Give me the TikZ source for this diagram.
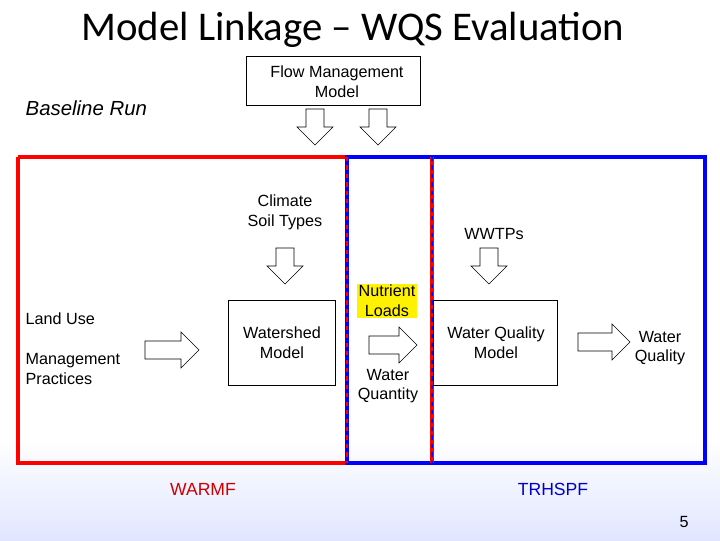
\documentclass[tikz,border=0pt]{standalone}
\usepackage{fontspec}
\setmainfont{Liberation Sans}
\newfontfamily\titlefont{Carlito}
\newcommand\blockarr[4]{% x y length rotation
 \begin{scope}[shift={(#1,#2)},rotate=#4]
 \draw[thin,fill=white] (-#3/2,-9) -- (#3/2-18,-9) -- (#3/2-18,-18) -- (#3/2,0) -- (#3/2-18,18) -- (#3/2-18,9) -- (-#3/2,9) -- cycle;
 \end{scope}}
\begin{document}
\begin{tikzpicture}[x=0.025cm,y=-0.025cm,
 lbl/.style={font=\fontsize{11.5}{14}\selectfont,align=center,inner sep=1pt},
 box/.style={draw,thin,fill=white}]
\useasboundingbox (0,0) rectangle (720,540);
\shade[top color=white,bottom color=cyan!18!blue!12] (0,440) rectangle (720,540);
\node[font=\titlefont\fontsize{29}{32}\selectfont] (title) at (353,30) {Model Linkage – WQS Evaluation};
\node[lbl,font=\itshape\fontsize{14.5}{16}\selectfont,anchor=west] (base) at (24,108) {Baseline Run};
\draw[box] (246,56) rectangle (420,105);
\node[lbl] (flow) at (337,82) {Flow Management\\Model};
% rectangles
\draw[red,line width=2.5pt] (18,157) -- (347,157) (18,157) -- (18,463) -- (347,463);
\draw[blue,line width=2.5pt] (347,157) rectangle (705,463);
\draw[red,line width=2.5pt] (432,157) -- (432,463);
\draw[red,line width=0.8pt,dashed] (347,157) -- (347,463);
\draw[blue,line width=0.8pt,dashed] (432,157) -- (432,463);
% boxes
\draw[box] (228,300) rectangle (335,385);
\node[lbl] (ws) at (282,343) {Watershed\\Model};
\draw[box] (433,300) rectangle (557,385);
\node[lbl] (wq) at (496,343) {Water Quality\\Model};
% labels
\node[lbl] (clim) at (285,212) {Climate\\Soil Types};
\node[lbl] (wwtp) at (494,234) {WWTPs};
\node[lbl,anchor=west] (lu) at (24,319) {Land Use};
\node[lbl,anchor=west,align=left] (mp) at (24,369) {Management\\Practices};
\node[lbl,fill=yellow,inner sep=1pt] (nl) at (387,301) {Nutrient\\Loads};
\node[lbl] (wqt) at (388,386) {Water\\Quantity};
\node[lbl] (wqo) at (660,348) {Water\\Quality};
\node[lbl,text=red!80!black,font=\fontsize{12.5}{14}\selectfont] (warmf) at (203,489) {WARMF};
\node[lbl,text=blue!80!black,font=\fontsize{12.5}{14}\selectfont] (trh) at (553,489) {TRHSPF};
\node[lbl] (pg) at (684,522) {5};
% block arrows
\blockarr{315}{127}{36}{-90}
\blockarr{378}{127}{36}{-90}
\blockarr{285}{266}{36}{-90}
\blockarr{489}{266}{36}{-90}
\blockarr{172}{350}{54}{0}
\blockarr{393}{345}{48}{0}
\blockarr{604}{342}{52}{0}
\end{tikzpicture}
\end{document}
